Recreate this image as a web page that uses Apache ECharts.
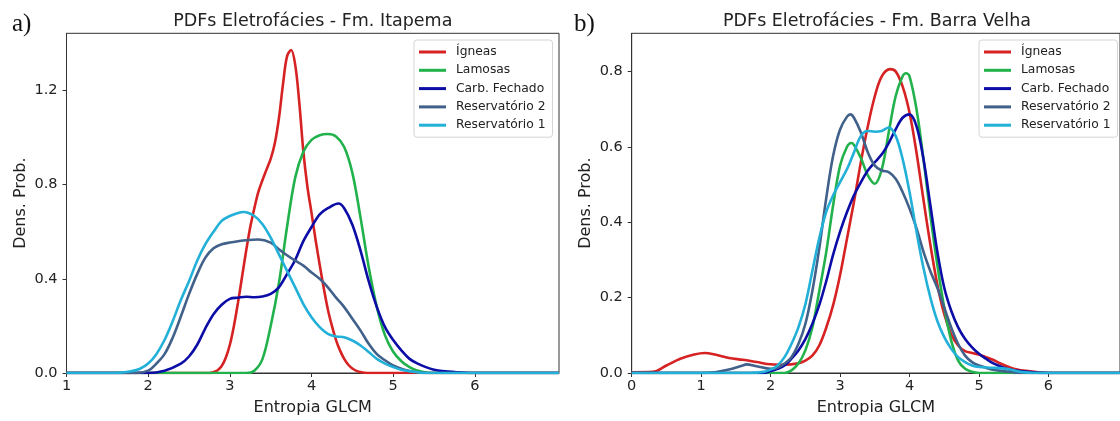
<!DOCTYPE html>
<html>
<head>
<meta charset="utf-8">
<script src="https://cdn.jsdelivr.net/npm/echarts@6/dist/echarts.min.js"></script>
<style>html,body{margin:0;padding:0;background:#fff;}#c{width:1120px;height:421px;}</style>
</head>
<body>
<div id="c"></div>
<script>
// ---------- data ----------
const seriesNames = ['Ígneas', 'Lamosas', 'Carb. Fechado', 'Reservatório 2', 'Reservatório 1'];
const titleA = 'PDFs Eletrofácies - Fm. Itapema';
const titleB = 'PDFs Eletrofácies - Fm. Barra Velha';
const xTicksA = [1, 2, 3, 4, 5, 6];
const xTicksB = [0, 1, 2, 3, 4, 5, 6];
const yTicksA = [0, 0.4, 0.8, 1.2];
const yTicksB = [0, 0.2, 0.4, 0.6, 0.8];

// Panel a) Fm. Itapema
const xIgneasA = [1, 2.75, 2.8, 2.85, 2.9, 2.95, 3.0, 3.05, 3.1, 3.15, 3.2, 3.25, 3.3, 3.35, 3.4, 3.45, 3.5, 3.55, 3.6, 3.65, 3.7, 3.75, 3.8, 3.85, 3.9, 3.95, 4.0, 4.05, 4.1, 4.15, 4.2, 4.25, 4.3, 4.35, 4.4, 4.45, 4.5, 4.55, 4.6, 4.65, 4.7, 7.03];
const yIgneasA = [0, 0, 0.004, 0.012, 0.03, 0.065, 0.12, 0.2, 0.3, 0.41, 0.52, 0.62, 0.7, 0.77, 0.82, 0.865, 0.91, 0.975, 1.08, 1.225, 1.345, 1.372, 1.31, 1.15, 0.94, 0.79, 0.68, 0.565, 0.46, 0.36, 0.27, 0.2, 0.14, 0.095, 0.06, 0.035, 0.019, 0.009, 0.004, 0.001, 0, 0];
const xLamosasA = [1, 3.2, 3.3, 3.4, 3.5, 3.6, 3.7, 3.8, 3.9, 4.0, 4.1, 4.2, 4.3, 4.4, 4.5, 4.6, 4.7, 4.8, 4.9, 5.0, 5.1, 5.2, 5.3, 5.45, 7.03];
const yLamosasA = [0, 0, 0.01, 0.06, 0.2, 0.38, 0.62, 0.83, 0.94, 0.99, 1.01, 1.015, 1.005, 0.96, 0.85, 0.66, 0.45, 0.28, 0.16, 0.09, 0.05, 0.025, 0.01, 0, 0];
const xCarbA = [1, 2.0, 2.2, 2.4, 2.5, 2.6, 2.7, 2.8, 2.9, 3.0, 3.1, 3.2, 3.3, 3.4, 3.5, 3.6, 3.7, 3.8, 3.9, 4.0, 4.1, 4.2, 4.33, 4.4, 4.5, 4.6, 4.7, 4.8, 4.9, 5.0, 5.1, 5.2, 5.3, 5.4, 5.5, 5.6, 5.8, 6.0, 7.03];
const yCarbA = [0, 0, 0.01, 0.04, 0.07, 0.12, 0.19, 0.25, 0.29, 0.315, 0.32, 0.324, 0.322, 0.325, 0.336, 0.364, 0.42, 0.48, 0.56, 0.62, 0.674, 0.70, 0.72, 0.70, 0.63, 0.52, 0.39, 0.28, 0.195, 0.14, 0.096, 0.06, 0.04, 0.025, 0.014, 0.008, 0.003, 0, 0];
const xRes2A = [1, 1.85, 2.0, 2.1, 2.2, 2.3, 2.4, 2.5, 2.6, 2.7, 2.8, 2.9, 3.0, 3.2, 3.35, 3.5, 3.6, 3.7, 3.8, 3.9, 4.0, 4.1, 4.2, 4.3, 4.4, 4.5, 4.6, 4.7, 4.8, 4.9, 5.0, 5.1, 5.2, 5.4, 7.03];
const yRes2A = [0, 0, 0.01, 0.04, 0.08, 0.15, 0.24, 0.335, 0.42, 0.49, 0.53, 0.547, 0.554, 0.564, 0.567, 0.554, 0.526, 0.5, 0.477, 0.456, 0.427, 0.4, 0.364, 0.32, 0.28, 0.23, 0.18, 0.124, 0.08, 0.054, 0.032, 0.018, 0.008, 0, 0];
const xRes1A = [1, 1.6, 1.8, 1.9, 2.0, 2.1, 2.2, 2.3, 2.4, 2.5, 2.6, 2.7, 2.8, 2.9, 3.0, 3.1, 3.17, 3.3, 3.4, 3.5, 3.6, 3.7, 3.8, 3.9, 4.0, 4.1, 4.2, 4.3, 4.4, 4.5, 4.6, 4.7, 4.8, 4.9, 5.0, 5.1, 5.2, 5.4, 7.03];
const yRes1A = [0, 0, 0.008, 0.018, 0.04, 0.08, 0.14, 0.22, 0.31, 0.39, 0.477, 0.547, 0.60, 0.646, 0.667, 0.68, 0.684, 0.667, 0.632, 0.575, 0.505, 0.434, 0.364, 0.293, 0.237, 0.195, 0.166, 0.155, 0.152, 0.138, 0.117, 0.089, 0.06, 0.04, 0.025, 0.014, 0.008, 0, 0];

// Panel b) Fm. Barra Velha
const xIgneasB = [0, 0.3, 0.5, 0.7, 0.9, 1.05, 1.2, 1.4, 1.6, 1.8, 2.0, 2.2, 2.4, 2.5, 2.6, 2.7, 2.8, 2.9, 3.0, 3.1, 3.2, 3.3, 3.4, 3.5, 3.6, 3.72, 3.8, 3.9, 4.0, 4.1, 4.2, 4.3, 4.4, 4.5, 4.6, 4.7, 4.8, 4.9, 5.0, 5.1, 5.2, 5.3, 5.4, 5.5, 5.6, 5.8, 6.0, 7.03];
const yIgneasB = [0.002, 0.003, 0.02, 0.038, 0.049, 0.053, 0.049, 0.04, 0.035, 0.029, 0.023, 0.022, 0.026, 0.033, 0.046, 0.073, 0.12, 0.18, 0.26, 0.357, 0.454, 0.56, 0.655, 0.734, 0.787, 0.806, 0.80, 0.76, 0.69, 0.585, 0.46, 0.34, 0.235, 0.156, 0.103, 0.073, 0.058, 0.053, 0.049, 0.042, 0.035, 0.026, 0.018, 0.011, 0.007, 0.003, 0, 0];
const xLamosasB = [0, 2.2, 2.3, 2.4, 2.5, 2.6, 2.7, 2.8, 2.9, 3.0, 3.1, 3.16, 3.2, 3.3, 3.4, 3.5, 3.6, 3.7, 3.8, 3.9, 3.95, 4.0, 4.1, 4.2, 4.3, 4.4, 4.5, 4.6, 4.7, 4.8, 4.9, 5.0, 7.03];
const yLamosasB = [0, 0, 0.007, 0.025, 0.06, 0.12, 0.217, 0.32, 0.445, 0.55, 0.60, 0.61, 0.605, 0.57, 0.524, 0.502, 0.54, 0.638, 0.734, 0.787, 0.795, 0.787, 0.70, 0.568, 0.419, 0.287, 0.173, 0.086, 0.033, 0.011, 0.003, 0, 0];
const xCarbB = [0, 1.9, 2.0, 2.1, 2.2, 2.3, 2.4, 2.5, 2.6, 2.7, 2.8, 2.9, 3.0, 3.1, 3.2, 3.3, 3.4, 3.5, 3.6, 3.7, 3.8, 3.9, 4.0, 4.1, 4.2, 4.3, 4.4, 4.5, 4.6, 4.7, 4.8, 4.9, 5.0, 5.1, 5.2, 5.3, 5.4, 5.5, 5.7, 6.0, 7.03];
const yCarbB = [0, 0, 0.005, 0.011, 0.02, 0.038, 0.06, 0.09, 0.13, 0.18, 0.243, 0.314, 0.375, 0.427, 0.471, 0.506, 0.537, 0.559, 0.58, 0.61, 0.646, 0.677, 0.686, 0.655, 0.568, 0.445, 0.322, 0.226, 0.165, 0.121, 0.09, 0.068, 0.051, 0.038, 0.026, 0.018, 0.011, 0.007, 0.003, 0, 0];
const xRes2B = [0, 1.0, 1.2, 1.4, 1.6, 1.65, 1.8, 2.0, 2.1, 2.2, 2.3, 2.4, 2.5, 2.6, 2.7, 2.8, 2.9, 3.0, 3.1, 3.15, 3.2, 3.3, 3.4, 3.5, 3.6, 3.7, 3.8, 3.9, 4.0, 4.1, 4.2, 4.3, 4.4, 4.5, 4.6, 4.7, 4.8, 4.9, 5.0, 5.1, 5.2, 5.4, 5.6, 7.03];
const yRes2B = [0, 0, 0.002, 0.009, 0.02, 0.023, 0.018, 0.011, 0.014, 0.025, 0.042, 0.077, 0.13, 0.217, 0.33, 0.463, 0.576, 0.646, 0.68, 0.686, 0.677, 0.638, 0.585, 0.55, 0.537, 0.533, 0.515, 0.48, 0.436, 0.384, 0.322, 0.27, 0.226, 0.173, 0.121, 0.077, 0.046, 0.029, 0.02, 0.014, 0.009, 0.004, 0, 0];
const xRes1B = [0, 1.7, 1.9, 2.0, 2.1, 2.2, 2.3, 2.4, 2.5, 2.6, 2.7, 2.8, 2.9, 3.0, 3.1, 3.2, 3.3, 3.4, 3.5, 3.6, 3.7, 3.8, 3.9, 4.0, 4.1, 4.2, 4.3, 4.4, 4.5, 4.6, 4.7, 4.8, 4.9, 5.0, 5.2, 5.4, 5.5, 5.6, 5.8, 7.03];
const yRes1B = [0, 0, 0.003, 0.009, 0.02, 0.042, 0.077, 0.121, 0.182, 0.27, 0.357, 0.427, 0.471, 0.506, 0.541, 0.585, 0.629, 0.642, 0.64, 0.642, 0.651, 0.629, 0.568, 0.48, 0.375, 0.279, 0.2, 0.138, 0.095, 0.064, 0.042, 0.029, 0.02, 0.016, 0.014, 0.011, 0.007, 0.003, 0, 0];

const seriesColors = ['#d62222', '#22b24c', '#0c0ca6', '#41618a', '#22b0d8'];

// ---------- chart ----------
const pairs = (xs, ys) => xs.map((x, i) => [x, ys[i]]);
const dataA = [[xIgneasA, yIgneasA], [xLamosasA, yLamosasA], [xCarbA, yCarbA], [xRes2A, yRes2A], [xRes1A, yRes1A]];
const dataB = [[xIgneasB, yIgneasB], [xLamosasB, yLamosasB], [xCarbB, yCarbB], [xRes2B, yRes2B], [xRes1B, yRes1B]];

const FONT = 'DejaVu Sans';
const txtColor = '#222';

function makeSeries(data, axisIndex) {
  return data.map((d, i) => ({
    name: seriesNames[i],
    type: 'line',
    xAxisIndex: axisIndex,
    yAxisIndex: axisIndex,
    data: pairs(d[0], d[1]),
    smooth: 0.35,
    symbol: 'none',
    color: seriesColors[i],
    lineStyle: { width: 2.6, color: seriesColors[i] },
    z: 2 + i,
    animation: false
  }));
}

function xAxisCfg(gi, min, ticks) {
  return {
    type: 'value', gridIndex: gi, min: min, max: 7.03,
    name: 'Entropia GLCM', nameLocation: 'middle', nameGap: 27,
    nameTextStyle: { fontFamily: FONT, fontSize: 16, color: txtColor },
    axisLine: { show: true, onZero: false, lineStyle: { color: '#333', width: 1 } },
    axisTick: { show: true, length: 4, lineStyle: { color: '#333' }, customValues: ticks },
    axisLabel: { fontFamily: FONT, fontSize: 14.5, color: txtColor, margin: 6, customValues: ticks, formatter: v => String(v) },
    splitLine: { show: false }
  };
}
function yAxisCfg(gi, max, ticks) {
  return {
    type: 'value', gridIndex: gi, min: 0, max: max,
    name: 'Dens. Prob.', nameLocation: 'middle', nameGap: 38, nameRotate: 90,
    nameTextStyle: { fontFamily: FONT, fontSize: 16, color: txtColor },
    axisLine: { show: true, lineStyle: { color: '#333', width: 1 } },
    axisTick: { show: true, length: 4, lineStyle: { color: '#333' }, customValues: ticks },
    axisLabel: { fontFamily: FONT, fontSize: 14.5, color: txtColor, margin: 9, customValues: ticks, formatter: v => v.toFixed(1) },
    splitLine: { show: false }
  };
}
function legendCfg(left) {
  return {
    orient: 'vertical', left: left, top: 40,
    itemWidth: 27, itemHeight: 3, icon: 'rect', itemGap: 4.3,
    padding: [5, 7, 5, 5],
    backgroundColor: '#fff', borderColor: '#d4d4d4', borderWidth: 1, borderRadius: 3,
    textStyle: { fontFamily: FONT, fontSize: 12.3, color: txtColor, lineHeight: 14, padding: [0, 0, 0, 5] },
    selectedMode: false,
    data: seriesNames
  };
}

const chart = echarts.init(document.getElementById('c'), null, { renderer: 'canvas' });
chart.setOption({
  backgroundColor: '#fff',
  animation: false,
  grid: [
    { left: 66.5, top: 33.3, width: 492.5, height: 342.5, show: true, borderColor: '#333', borderWidth: 1, backgroundColor: 'transparent' },
    { left: 631.7, top: 33.3, width: 492.5, height: 342.5, show: true, borderColor: '#333', borderWidth: 1, backgroundColor: 'transparent' }
  ],
  xAxis: [xAxisCfg(0, 1, xTicksA), xAxisCfg(1, 0, xTicksB)],
  yAxis: [yAxisCfg(0, 1.443, yTicksA), yAxisCfg(1, 0.901, yTicksB)],
  legend: [legendCfg(414), legendCfg(979)],
  graphic: [
    { type: 'text', x: 312.8, y: 21, style: { text: titleA, font: '17.5px "DejaVu Sans"', fill: txtColor, align: 'center', verticalAlign: 'middle' } },
    { type: 'text', x: 877, y: 21, style: { text: titleB, font: '17.5px "DejaVu Sans"', fill: txtColor, align: 'center', verticalAlign: 'middle' } },
    { type: 'text', x: 12, y: 24, style: { text: 'a)', font: '25px "Liberation Serif"', fill: '#111', align: 'left', verticalAlign: 'middle' } },
    { type: 'text', x: 574, y: 24, style: { text: 'b)', font: '25px "Liberation Serif"', fill: '#111', align: 'left', verticalAlign: 'middle' } }
  ],
  series: makeSeries(dataA, 0).concat(makeSeries(dataB, 1))
});
</script>
</body>
</html>
